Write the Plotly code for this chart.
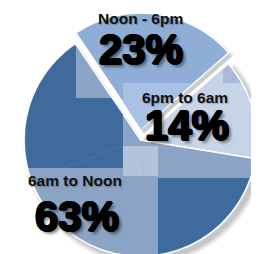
import numpy as np
import plotly.graph_objects as go

# ---- data ----
categories = ["Noon - 6pm", "6pm to 6am", "6am to Noon"]
values = [23, 14, 63]
pct_labels = [f"{v}%" for v in values]

# ---- geometry / style (pixels) ----
W, H = 259, 254
CX, CY, R = 132.5, 132.0, 116.5
PDX, PDY = 0.5, -10.5          # offset of exploded slice
ROT = -34
slice_colors = ["#8EAED7", "#C7D4E8", "#8BA3C4"]
DARK = "#3F6A9C"
CLEAR = "rgba(0,0,0,0)"
total = sum(values)
cum = np.cumsum([0] + values) * 360 / total + ROT


def dom(cx, cy, r):
    return dict(x=[max(0, (cx - r) / W), min(1, (cx + r) / W)],
                y=[max(0, 1 - (cy + r) / H), min(1, 1 - (cy - r) / H)])


def pie(vals, colors, lines, d, lw=1.5):
    return go.Pie(values=vals, labels=list(range(len(vals))), sort=False, direction="clockwise",
                  rotation=ROT, domain=d, textinfo="none", hoverinfo="skip", showlegend=False,
                  marker=dict(colors=colors, line=dict(color=lines, width=lw)))


rest = [values[0], sum(values[1:])]
traces = []
# main pie
traces.append(pie(values, [CLEAR] + slice_colors[1:], [CLEAR, "white", "white"], dom(CX, CY, R)))
# shadow of exploded slice (over the main pie)
for grow, a in [(3, 0.07), (1.5, 0.09), (0, 0.12)]:
    traces.append(pie(rest, [f"rgba(60,60,60,{a})", CLEAR], [CLEAR, CLEAR],
                      dom(CX + PDX + 3, CY + PDY + 4, R + grow), 0))
# exploded slice
traces.append(pie(values, [slice_colors[0], CLEAR, CLEAR], ["white", CLEAR, CLEAR], dom(CX + PDX, CY + PDY, R)))

fig = go.Figure(traces)


def sector(cx, cy, r, a0, a1, n=60):
    t = np.radians(np.linspace(a0, a1, n))
    return [(cx, cy)] + [(cx + r * np.sin(v), cy - r * np.cos(v)) for v in t]


def to_path(poly):
    return "M" + " L".join(f"{x / W:.5f},{1 - y / H:.5f}" for x, y in poly) + " Z"


# soft drop shadow under the main pie
for grow, a in [(5, 0.05), (3.5, 0.07), (2, 0.09), (0.5, 0.11)]:
    fig.add_shape(type="path", path=to_path(sector(CX + 4, CY + 4, R + grow, cum[1], cum[3], 120)),
                  xref="paper", yref="paper", fillcolor=f"rgba(60,60,60,{a})", line=dict(width=0), layer="below")


# ---- picture-fill tiles, clipped to slices ----
def clip(subject, clipper):
    area = sum(x0 * y1 - x1 * y0 for (x0, y0), (x1, y1) in zip(clipper, clipper[1:] + clipper[:1]))
    sg = 1 if area > 0 else -1
    out = subject
    for i in range(len(clipper)):
        a = clipper[i]
        b = clipper[(i + 1) % len(clipper)]
        inp, out = out, []
        if not inp:
            break

        def inside(p):
            return sg * ((b[0] - a[0]) * (p[1] - a[1]) - (b[1] - a[1]) * (p[0] - a[0])) >= 0

        def inter(p, q):
            x1, y1 = p; x2, y2 = q; x3, y3 = a; x4, y4 = b
            den = (x1 - x2) * (y3 - y4) - (y1 - y2) * (x3 - x4)
            t = ((x1 - x3) * (y3 - y4) - (y1 - y3) * (x3 - x4)) / den
            return (x1 + t * (x2 - x1), y1 + t * (y2 - y1))

        s = inp[-1]
        for e in inp:
            if inside(e):
                if not inside(s):
                    out.append(inter(s, e))
                out.append(e)
            elif inside(s):
                out.append(inter(s, e))
            s = e
    return out


def rect(x0, y0, x1, y1):
    return [(x0, y0), (x1, y0), (x1, y1), (x0, y1)]


def add_tiles(tiles, cx, cy, r, a0, a1):
    span = a1 - a0
    k = int(np.ceil(span / 110))
    for j in range(k):
        cl = sector(cx, cy, r, a0 + span * j / k, a0 + span * (j + 1) / k)
        for box, col in tiles:
            poly = clip(rect(*box), cl)
            if len(poly) < 3:
                continue
            fig.add_shape(type="path", path=to_path(poly), xref="paper", yref="paper",
                          fillcolor=col, line=dict(width=0), layer="above")


inset = 0.8
add_tiles([((0, 0, 68, 160), DARK), ((68, 90, 115, 160), DARK), ((150, 170, 260, 260), DARK),
           ((115, 138, 150, 168), "#B3C3DA")],
          CX, CY, R - 1.2, cum[2] + inset, cum[3] - inset)
add_tiles([((215, 0, 260, 75), "#A9BAD7")], CX, CY, R - 1.2, cum[1] + inset, cum[2] - inset)
add_tiles([((115, 75, 260, 260), "#A9C1E2")], CX + PDX, CY + PDY, R - 1.2, cum[0] + inset, cum[1] - inset)

# ---- labels ----
ADJ = (-7.5, -7.5)   # measured rendering offset of annotations
label_pos = [(140, 17.5), (184, 96.5), (74.5, 180)]
pct_pos = [(140, 48.7), (186, 125), (76.5, 216)]
heavy = ("1.1px 0 0 #000, -1.1px 0 0 #000, 0 1.1px 0 #000, 0 -1.1px 0 #000, "
         "0.8px 0.8px 0 #000, -0.8px -0.8px 0 #000, 3px 3px 3px rgba(0,0,0,0.45)")
for (lx, ly), (px, py), cat, pc in zip(label_pos, pct_pos, categories, pct_labels):
    fig.add_annotation(x=(lx + ADJ[0]) / W, y=1 - (ly + ADJ[1]) / H, xref="paper", yref="paper",
                       text=cat, showarrow=False, xanchor="center", yanchor="middle",
                       font=dict(family="Liberation Sans, Arial, sans-serif", size=15.5, weight="bold",
                                 color="#111111", shadow="1px 1px 1px rgba(0,0,0,0.25)"))
    fig.add_annotation(x=(px + ADJ[0]) / W, y=1 - (py + ADJ[1]) / H, xref="paper", yref="paper",
                       text=pc, showarrow=False, xanchor="center", yanchor="middle",
                       font=dict(family="Liberation Sans, Arial, sans-serif", size=42, weight="bold",
                                 color="#000000", shadow=heavy))

fig.update_layout(width=W, height=H, margin=dict(l=0, r=0, t=0, b=0),
                  paper_bgcolor="white", plot_bgcolor="white", showlegend=False)
fig.write_html("out.html")
